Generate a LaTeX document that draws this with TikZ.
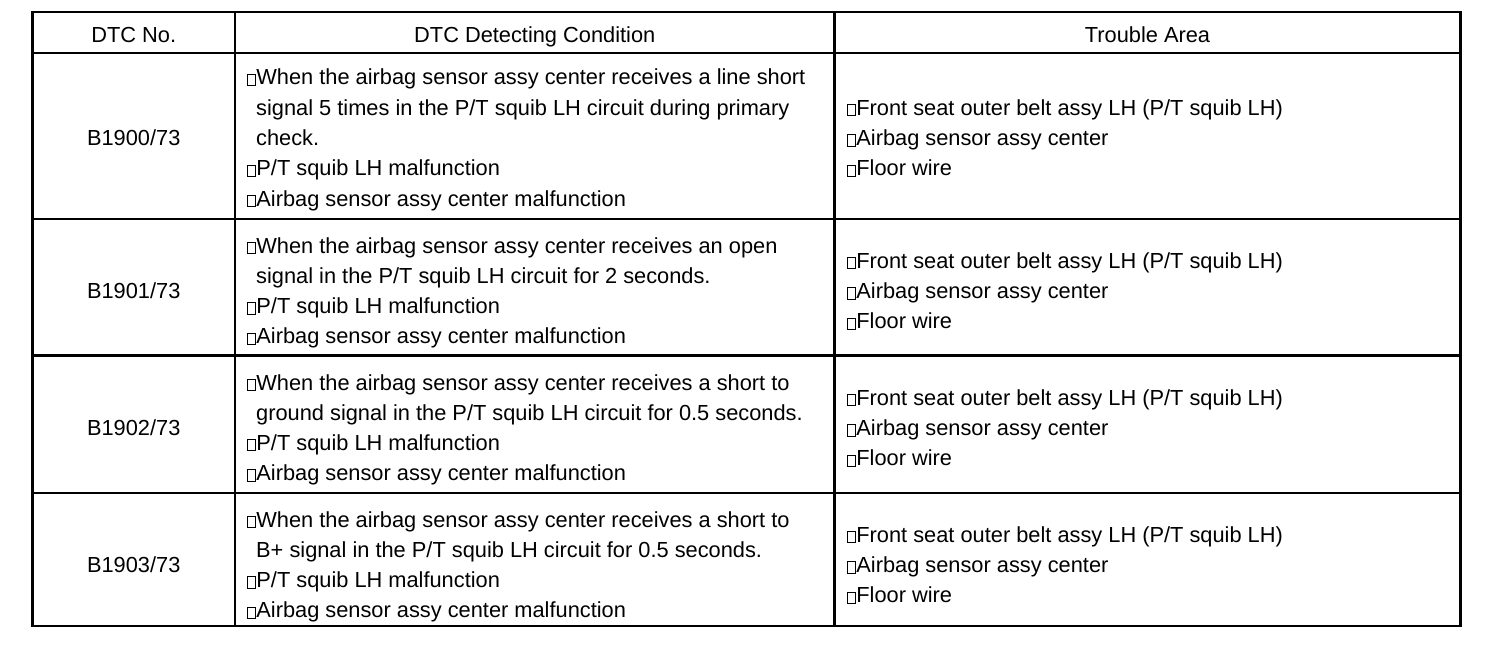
\documentclass[tikz,border=0pt]{standalone}
\usepackage{fontspec}
\setmainfont{Liberation Sans}
\newcommand\cb{{\setlength\fboxsep{0pt}\setlength\fboxrule{0.8pt}\fbox{\rule{0pt}{10.5pt}\hspace{7pt}}}\kern0.6pt}
\tikzset{
  grid/.style={line width=2.8pt, line cap=rect},
  txt/.style={anchor=base west, inner sep=0pt, font=\fontsize{21.8}{30}\selectfont},
  ctr/.style={anchor=base, inner sep=0pt, font=\fontsize{21.8}{30}\selectfont}
}
\begin{document}
\begin{tikzpicture}[x=1pt,y=-1pt]
\useasboundingbox (0,0) rectangle (1504,658);
% grid
\draw[grid] (32.5,12) rectangle (1460.5,626);
\draw[grid] (32.5,53) -- (1460.5,53);
\draw[grid] (32.5,219) -- (1460.5,219);
\draw[grid] (32.5,355.5) -- (1460.5,355.5);
\draw[grid] (32.5,493) -- (1460.5,493);
\draw[grid] (235,12) -- (235,626);
\draw[grid] (834.5,12) -- (834.5,626);
% header
\node[ctr] (h1) at (133.75,42.7) {DTC No.};
\node[ctr] (h2) at (534.75,42.7) {DTC Detecting Condition};
\node[ctr] (h3) at (1147.5,42.7) {Trouble Area};
% row 1
\node[ctr] (d1) at (133.75,145.6) {B1900/73};
\node[txt] (c1a) at (247,85) {\cb When the airbag sensor assy center receives a line short};
\node[txt] (c1b) at (256,115.3) {signal 5 times in the P/T squib LH circuit during primary};
\node[txt] (c1c) at (256,145.6) {check.};
\node[txt] (c1d) at (247,175.9) {\cb P/T squib LH malfunction};
\node[txt] (c1e) at (247,206.2) {\cb Airbag sensor assy center malfunction};
\node[txt] (t1a) at (847,115.3) {\cb Front seat outer belt assy LH (P/T squib LH)};
\node[txt] (t1b) at (847,145.6) {\cb Airbag sensor assy center};
\node[txt] (t1c) at (847,175.9) {\cb Floor wire};
% row 2
\node[ctr] (d2) at (133.75,298.5) {B1901/73};
\node[txt] (c2a) at (247,253.3) {\cb When the airbag sensor assy center receives an open};
\node[txt] (c2b) at (256,283.5) {signal in the P/T squib LH circuit for 2 seconds.};
\node[txt] (c2c) at (247,313.7) {\cb P/T squib LH malfunction};
\node[txt] (c2d) at (247,343.9) {\cb Airbag sensor assy center malfunction};
\node[txt] (t2a) at (847,268.3) {\cb Front seat outer belt assy LH (P/T squib LH)};
\node[txt] (t2b) at (847,298.5) {\cb Airbag sensor assy center};
\node[txt] (t2c) at (847,328.8) {\cb Floor wire};
% row 3
\node[ctr] (d3) at (133.75,435.5) {B1902/73};
\node[txt] (c3a) at (247,390) {\cb When the airbag sensor assy center receives a short to};
\node[txt] (c3b) at (256,420.2) {ground signal in the P/T squib LH circuit for 0.5 seconds.};
\node[txt] (c3c) at (247,450.4) {\cb P/T squib LH malfunction};
\node[txt] (c3d) at (247,480.6) {\cb Airbag sensor assy center malfunction};
\node[txt] (t3a) at (847,405) {\cb Front seat outer belt assy LH (P/T squib LH)};
\node[txt] (t3b) at (847,435.5) {\cb Airbag sensor assy center};
\node[txt] (t3c) at (847,465.8) {\cb Floor wire};
% row 4
\node[ctr] (d4) at (133.75,572.5) {B1903/73};
\node[txt] (c4a) at (247,527.3) {\cb When the airbag sensor assy center receives a short to};
\node[txt] (c4b) at (256,557.5) {B+ signal in the P/T squib LH circuit for 0.5 seconds.};
\node[txt] (c4c) at (247,587.7) {\cb P/T squib LH malfunction};
\node[txt] (c4d) at (247,617.9) {\cb Airbag sensor assy center malfunction};
\node[txt] (t4a) at (847,542) {\cb Front seat outer belt assy LH (P/T squib LH)};
\node[txt] (t4b) at (847,572.5) {\cb Airbag sensor assy center};
\node[txt] (t4c) at (847,602.8) {\cb Floor wire};
\end{tikzpicture}
\end{document}
